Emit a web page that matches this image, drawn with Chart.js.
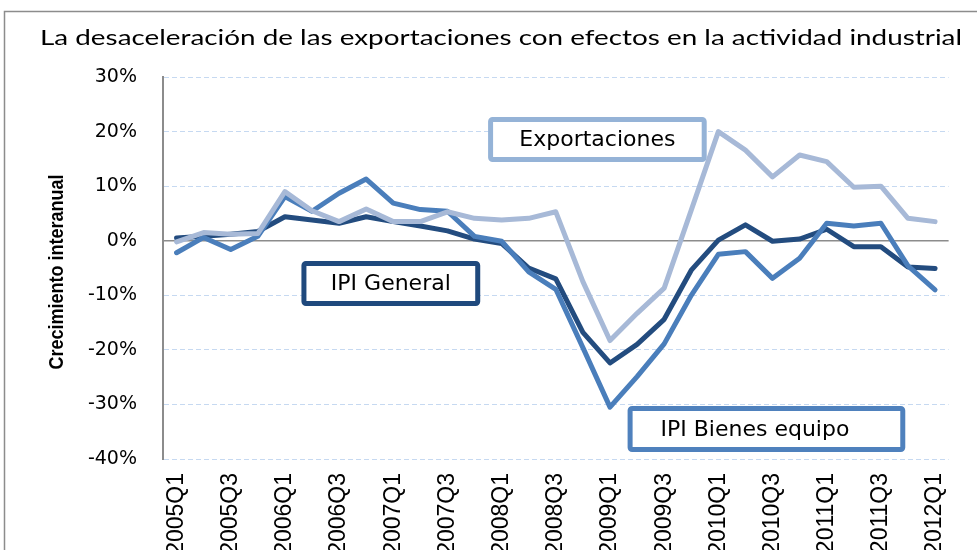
<!DOCTYPE html>
<html><head><meta charset="utf-8">
<script src="https://cdn.jsdelivr.net/npm/chart.js@4.4.1/dist/chart.umd.min.js"></script>
<style>html,body{margin:0;padding:0;background:#fff}canvas{display:block}</style>
</head><body>
<canvas id="c" width="977" height="550"></canvas>
<script>
const quarters = ['2005Q1','2005Q2','2005Q3','2005Q4','2006Q1','2006Q2','2006Q3','2006Q4',
  '2007Q1','2007Q2','2007Q3','2007Q4','2008Q1','2008Q2','2008Q3','2008Q4',
  '2009Q1','2009Q2','2009Q3','2009Q4','2010Q1','2010Q2','2010Q3','2010Q4',
  '2011Q1','2011Q2','2011Q3','2011Q4','2012Q1'];
const exportaciones = [-0.2,1.5,1.2,1.3,9.0,5.5,3.5,5.8,3.5,3.5,5.3,4.1,3.8,4.1,5.3,-7.5,
  -18.3,-13.3,-8.7,5.6,20.0,16.6,11.7,15.7,14.5,9.8,10.0,4.1,3.5];
const ipiGeneral = [0.5,0.8,1.2,1.7,4.4,3.8,3.2,4.4,3.5,2.7,1.8,0.3,-0.5,-5.0,-7.0,-16.8,
  -22.4,-19.0,-14.4,-5.4,0.1,2.9,-0.1,0.3,2.1,-1.1,-1.1,-4.8,-5.1];
const ipiBienesEquipo = [-2.2,0.6,-1.6,0.8,8.1,5.4,8.7,11.3,6.9,5.7,5.4,0.8,-0.1,-5.7,-8.9,-19.6,
  -30.5,-24.9,-18.9,-10.0,-2.5,-2.0,-6.9,-3.2,3.2,2.7,3.2,-4.6,-9.0];
const seriesNames = ['Exportaciones','IPI General','IPI Bienes equipo'];
const yMin = -40, yMax = 30, yStep = 10;
const titleText = 'La desaceleración de las exportaciones con efectos en la actividad industrial';
const yAxisTitle = 'Crecimiento interanual';

// label boxes, anchored in data units (category index, percent)
const labelBoxes = [
  {text: seriesNames[0], x0: 11.5, x1: 19.57, y0: 22.67, y1: 14.42, tx: null, color: '#95B3D7'},
  {text: seriesNames[1], x0: 4.61, x1: 11.21, y0: -3.72, y1: -11.97, tx: null, color: '#1F497D'},
  {text: seriesNames[2], x0: 16.65, x1: 26.9, y0: -30.29, y1: -38.72, tx: 21.35, color: '#4F81BD'}
];

const decor = {
  id: 'decor',
  beforeDraw(chart) {
    const ctx = chart.ctx;
    ctx.save();
    ctx.fillStyle = '#fff';
    ctx.fillRect(0, 0, chart.width, chart.height);
    ctx.strokeStyle = '#8c8c8c';
    ctx.lineWidth = 1.5;
    ctx.beginPath();
    ctx.moveTo(4.5, chart.height + 5);
    ctx.lineTo(4.5, 11.5);
    ctx.lineTo(chart.width + 5, 11.5);
    ctx.stroke();
    ctx.font = '22px Lato';
    ctx.fillStyle = '#000';
    ctx.textBaseline = 'alphabetic';
    const w = ctx.measureText(titleText).width;
    ctx.save();
    ctx.translate(40, 45);
    ctx.scale(922 / w, 1);
    ctx.fillText(titleText, 0, 0);
    ctx.restore();
    // y axis title, rotated
    const ys = chart.scales.y;
    ctx.font = 'bold 21px "Liberation Sans Narrow", "Arial Narrow", sans-serif';
    const tw = ctx.measureText(yAxisTitle).width;
    ctx.translate(57, (ys.top + ys.bottom) / 2 + 4);
    ctx.rotate(-Math.PI / 2);
    ctx.scale(195 / tw, 1);
    ctx.textAlign = 'center';
    ctx.textBaseline = 'middle';
    ctx.fillText(yAxisTitle, 0, 0);
    ctx.restore();
  },
  afterDatasetsDraw(chart) {
    const ctx = chart.ctx;
    const xs = chart.scales.x, ys = chart.scales.y;
    ctx.save();
    labelBoxes.forEach(b => {
      const l = xs.getPixelForValue(b.x0), r = xs.getPixelForValue(b.x1);
      const t = ys.getPixelForValue(b.y0), bt = ys.getPixelForValue(b.y1);
      const lw = 5;
      ctx.beginPath();
      if (ctx.roundRect) ctx.roundRect(l + lw/2, t + lw/2, r - l - lw, bt - t - lw, 2);
      else ctx.rect(l + lw/2, t + lw/2, r - l - lw, bt - t - lw);
      ctx.fillStyle = '#fff';
      ctx.fill();
      ctx.lineWidth = lw;
      ctx.strokeStyle = b.color;
      ctx.stroke();
      ctx.fillStyle = '#000';
      ctx.font = '22px "DejaVu Sans"';
      ctx.textAlign = 'center';
      ctx.textBaseline = 'middle';
      const cx = b.tx === null ? (l + r) / 2 : xs.getPixelForValue(b.tx);
      ctx.fillText(b.text, cx, (t + bt) / 2 + 1);
    });
    ctx.restore();
  }
};

new Chart(document.getElementById('c'), {
  type: 'line',
  data: {
    labels: quarters,
    datasets: [
      {label: seriesNames[0], data: exportaciones, borderColor: '#A7B9D7'},
      {label: seriesNames[2], data: ipiBienesEquipo, borderColor: '#4A7EBB'},
      {label: seriesNames[1], data: ipiGeneral, borderColor: '#234C7F'}
    ].map(d => Object.assign(d, {borderWidth: 5, pointRadius: 0, pointHoverRadius: 0,
      fill: false, tension: 0, borderJoinStyle: 'round', borderCapStyle: 'round'}))
  },
  options: {
    responsive: false,
    animation: false,
    devicePixelRatio: 1,
    layout: {padding: {left: 46, right: 19, top: 77, bottom: 0}},
    plugins: {legend: {display: false}, tooltip: {enabled: false}, title: {display: false}},
    scales: {
      x: {
        type: 'category',
        offset: true,
        grid: {display: false, drawTicks: false},
        border: {display: false},
        ticks: {
          autoSkip: false, maxRotation: 90, minRotation: 90, padding: 14,
          color: '#000',
          font: {family: '"Liberation Sans Narrow", "Arial Narrow", sans-serif', size: 23},
          callback: (v, i) => (i % 2 === 0 ? quarters[i] : '')
        },
        afterFit: s => { s.height = 91; }
      },
      y: {
        min: yMin, max: yMax,
        ticks: {stepSize: yStep, padding: 26, color: '#000',
          font: {family: '"DejaVu Sans", sans-serif', size: 19},
          callback: v => v + '%'},
        grid: {drawTicks: false, lineWidth: c => (c.tick && c.tick.value === 0 ? 1.5 : 1),
          color: c => (c.tick && c.tick.value === 0 ? '#8c8c8c' : '#C6D9F1')},
        border: {display: true, color: '#8c8c8c', width: 2,
          dash: c => (c.tick && c.tick.value !== 0 ? [5, 3] : [])},
        title: {display: false},
        afterFit: s => { s.width = 117; }
      }
    }
  },
  plugins: [decor]
});
</script>
</body></html>
